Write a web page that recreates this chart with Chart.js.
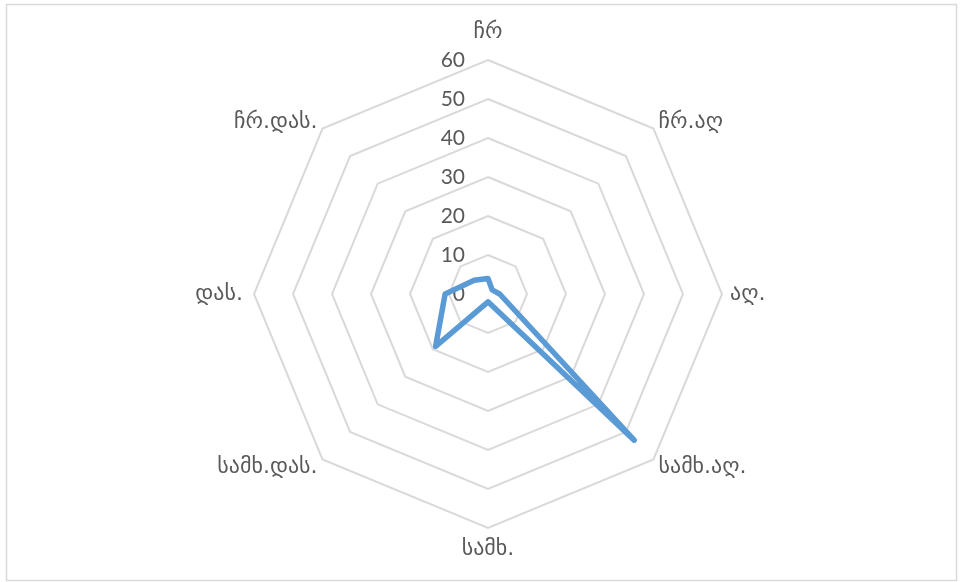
<!DOCTYPE html>
<html>
<head>
<meta charset="utf-8">
<script src="https://cdn.jsdelivr.net/npm/chart.js@4/dist/chart.umd.min.js"></script>
<style>
html,body{margin:0;padding:0;background:#fff;}
#wrap{width:960px;height:582px;position:relative;}
</style>
</head>
<body>
<div id="wrap"><canvas id="c" width="960" height="582"></canvas></div>
<script>
const categories = ['ჩრ', 'ჩრ.აღ', 'აღ.', 'სამხ.აღ.', 'სამხ.', 'სამხ.დას.', 'დას.', 'ჩრ.დას.'];
const seriesValues = [4, 1.5, 3, 53, 2, 19, 11, 5];
const tickValues = [0, 10, 20, 30, 40, 50, 60];

const textColor = '#595959';
const gridColor = '#d9d9d9';

const labelsPlugin = {
  id: 'excelLabels',
  beforeDraw(chart) {
    const ctx = chart.ctx;
    ctx.save();
    ctx.strokeStyle = gridColor;
    ctx.lineWidth = 1.5;
    ctx.strokeRect(6.5, 4.5, 950, 576);
    ctx.restore();
  },
  beforeDatasetsDraw(chart) {
    const r = chart.scales.r;
    const ctx = chart.ctx;
    ctx.save();
    ctx.fillStyle = textColor;
    // tick labels
    ctx.font = '21px Lato';
    ctx.textAlign = 'right';
    ctx.textBaseline = 'middle';
    tickValues.forEach(v => {
      const d = r.getDistanceFromCenterForValue(v);
      ctx.fillText(String(v), r.xCenter - 23, r.yCenter - d);
    });
    // point labels
    ctx.font = '22px "DejaVu Sans"';
    const R = r.drawingArea;
    categories.forEach((lab, i) => {
      const p = r.getPointPosition(i, R);
      let x = p.x, y = p.y, align = 'center';
      switch (i) {
        case 0: y -= 28; break;
        case 1: x += 5; y -= 6; align = 'left'; break;
        case 2: x += 8; align = 'left'; break;
        case 3: x += 5; y += 8; align = 'left'; break;
        case 4: y += 21; break;
        case 5: x -= 5; y += 8; align = 'right'; break;
        case 6: x -= 11; align = 'right'; break;
        case 7: x -= 5; y -= 6; align = 'right'; break;
      }
      ctx.textAlign = align;
      ctx.textBaseline = 'middle';
      ctx.fillText(lab, x, y);
    });
    ctx.restore();
  }
};

new Chart(document.getElementById('c'), {
  type: 'radar',
  data: {
    labels: categories,
    datasets: [{
      data: seriesValues,
      borderColor: '#5b9bd5',
      borderWidth: 5.5,
      fill: false,
      pointRadius: 0,
      pointHoverRadius: 0,
      borderJoinStyle: 'round',
      borderCapStyle: 'round',
      tension: 0
    }]
  },
  options: {
    responsive: false,
    animation: false,
    devicePixelRatio: 1,
    layout: { padding: { left: 254, right: 238, top: 60, bottom: 54 } },
    plugins: { legend: { display: false }, tooltip: { enabled: false } },
    scales: {
      r: {
        min: 0,
        max: 60,
        ticks: { display: false, stepSize: 10 },
        grid: { color: gridColor, lineWidth: 2, circular: false },
        angleLines: { display: false },
        pointLabels: { display: false }
      }
    }
  },
  plugins: [labelsPlugin]
});
</script>
</body>
</html>
